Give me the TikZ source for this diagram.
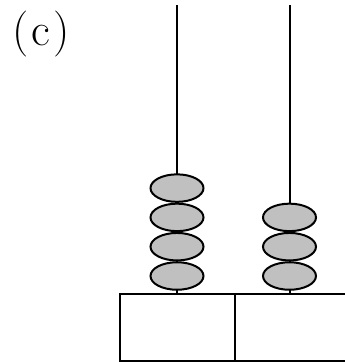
\documentclass[tikz,border=0pt]{standalone}
\usepackage{fontspec}
\usetikzlibrary{shapes.geometric}
\definecolor{beadgray}{RGB}{192,192,192}

\begin{document}
\begin{tikzpicture}[x=1pt, y=-1pt, line width=2pt,
    bead/.style={draw, ellipse, fill=beadgray, inner sep=0pt, minimum width=53pt, minimum height=27.5pt},
    cell/.style={draw, rectangle, inner sep=0pt, minimum height=66.5pt}]
      \useasboundingbox (0,0) rectangle (345,362);
      % label
      \node[font=\fontsize{46}{55}\selectfont, inner sep=0pt] (lab) at (41,34) {(\kern3pt c\kern3pt)};
      % base cells
      \node[cell, minimum width=115pt] (cellL) at (177,327.25) {};
      \node[cell, minimum width=112.5pt] (cellR) at (291.25,327.25) {};
      % rods
      \coordinate (topA) at (177,5);
      \coordinate (topB) at (289.5,5);
      \draw (topA) -- (topA |- cellL.north);
      \draw (topB) -- (topB |- cellR.north);
      % beads on the left rod
      \foreach \i in {1,...,4}
        \node[bead] (a\i) at (177,{276-29.3*(\i-1)}) {};
      % beads on the right rod
      \foreach \i in {1,...,3}
        \node[bead] (b\i) at (289.5,{276-29.3*(\i-1)}) {};
\end{tikzpicture}
\end{document}
